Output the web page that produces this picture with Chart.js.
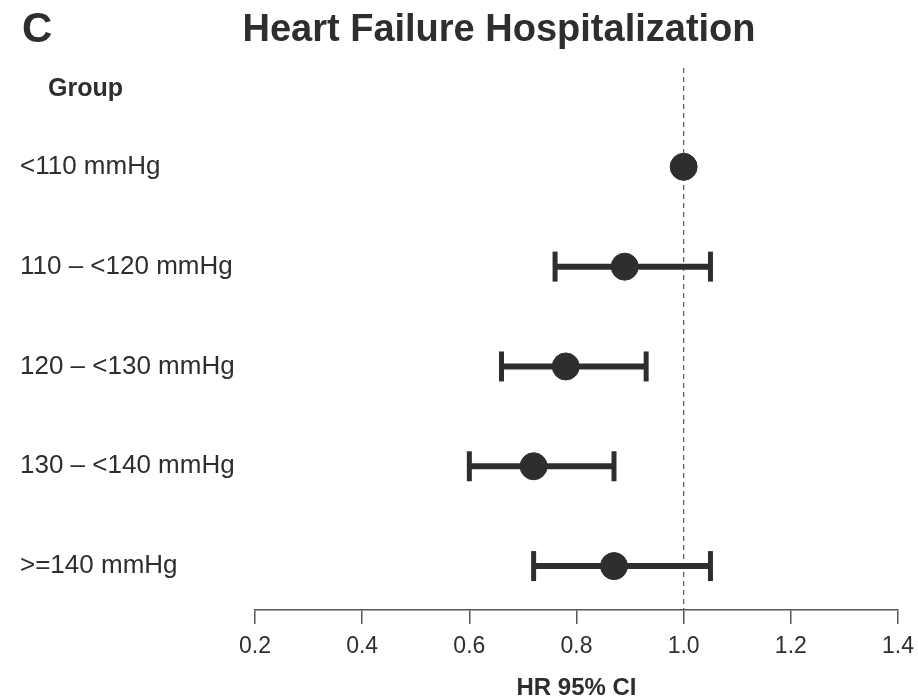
<!DOCTYPE html>
<html>
<head>
<meta charset="utf-8">
<script src="https://cdn.jsdelivr.net/npm/chart.js@4"></script>
<style>
  html, body { margin: 0; padding: 0; background: #fff; }
  #wrap { width: 918px; height: 700px; }
</style>
</head>
<body>
<div id="wrap"><canvas id="chart"></canvas></div>
<script>
const groups = ['<110 mmHg', '110 \u2013 <120 mmHg', '120 \u2013 <130 mmHg', '130 \u2013 <140 mmHg', '>=140 mmHg'];
const hr = [1.0, 0.89, 0.78, 0.72, 0.87];
const ciLow = [null, 0.76, 0.66, 0.60, 0.72];
const ciHigh = [null, 1.05, 0.93, 0.87, 1.05];
const xTicks = [0.2, 0.4, 0.6, 0.8, 1.0, 1.2, 1.4];
const refLine = 1.0;

const FONT = "'Liberation Sans', Arial, Helvetica, sans-serif";
const INK = '#2e2e2e';

// error bars, one little line dataset per group (first group is the reference, no CI)
const ciSets = [];
groups.forEach((g, i) => {
  if (ciLow[i] == null) return;
  ciSets.push({
    type: 'line',
    data: [{ x: ciLow[i], y: i }, { x: ciHigh[i], y: i }],
    borderColor: INK,
    borderWidth: 6,
    pointStyle: 'line',
    rotation: 90,
    pointRadius: 15,
    pointBorderWidth: 5,
    pointBorderColor: INK,
    order: 2,
  });
});

// dashed line at HR = 1 and the extra texts
const extras = {
  id: 'extras',
  beforeDatasetsDraw(chart) {
    const { ctx, chartArea, scales } = chart;
    const x = scales.x.getPixelForValue(refLine);
    ctx.save();
    ctx.strokeStyle = '#555';
    ctx.lineWidth = 1.2;
    ctx.setLineDash([5, 4]);
    ctx.beginPath();
    ctx.moveTo(x, chartArea.top);
    ctx.lineTo(x, chartArea.bottom);
    ctx.stroke();
    ctx.restore();
  },
  afterDraw(chart) {
    const { ctx } = chart;
    ctx.save();
    ctx.fillStyle = INK;
    ctx.textBaseline = 'alphabetic';
    ctx.textAlign = 'left';
    ctx.font = 'bold 42px ' + FONT;
    ctx.fillText('C', 22, 42);
    ctx.textAlign = 'center';
    ctx.font = 'bold 38px ' + FONT;
    ctx.fillText('Heart Failure Hospitalization', 499, 41);
    ctx.textAlign = 'left';
    ctx.font = 'bold 25px ' + FONT;
    ctx.fillText('Group', 48, 96);
    ctx.restore();
  }
};

new Chart(document.getElementById('chart'), {
  type: 'scatter',
  data: {
    datasets: [
      {
        data: hr.map((v, i) => ({ x: v, y: i })),
        backgroundColor: INK,
        borderColor: INK,
        pointRadius: 13.5,
        pointHoverRadius: 13.5,
        order: 1,
      },
      ...ciSets,
    ],
  },
  options: {
    responsive: true,
    maintainAspectRatio: false,
    animation: false,
    layout: { padding: { left: 20, right: 20, top: 68, bottom: 0 } },
    plugins: {
      legend: { display: false },
      tooltip: { enabled: false },
      title: { display: false },
    },
    scales: {
      x: {
        type: 'linear',
        min: 0.2,
        max: 1.4,
        afterBuildTicks: (s) => { s.ticks = xTicks.map(v => ({ value: v })); },
        afterFit: (s) => { s.height = 90; s.paddingLeft = 0; s.paddingRight = 0; },
        border: { display: true, color: '#555', width: 1.5 },
        grid: { drawOnChartArea: false, drawTicks: true, tickLength: 14, color: '#555', lineWidth: 1.5 },
        ticks: {
          color: INK,
          padding: 9,
          font: { family: FONT, size: 23 },
          maxRotation: 0,
          callback: (v) => Number(v).toFixed(1),
        },
        title: {
          display: true,
          text: 'HR 95% CI',
          color: INK,
          padding: { top: 0, bottom: 0 },
          font: { family: FONT, size: 24, weight: 'bold', lineHeight: 1 },
        },
      },
      y: {
        type: 'linear',
        reverse: true,
        min: -0.99,
        max: 4.44,
        afterBuildTicks: (s) => { s.ticks = groups.map((g, i) => ({ value: i })); },
        afterFit: (s) => { s.width = 235; },
        border: { display: false },
        grid: { display: false },
        ticks: {
          color: INK,
          crossAlign: 'far',
          font: { family: FONT, size: 26 },
          callback: (v) => groups[v],
        },
      },
    },
  },
  plugins: [extras],
});
</script>
</body>
</html>
